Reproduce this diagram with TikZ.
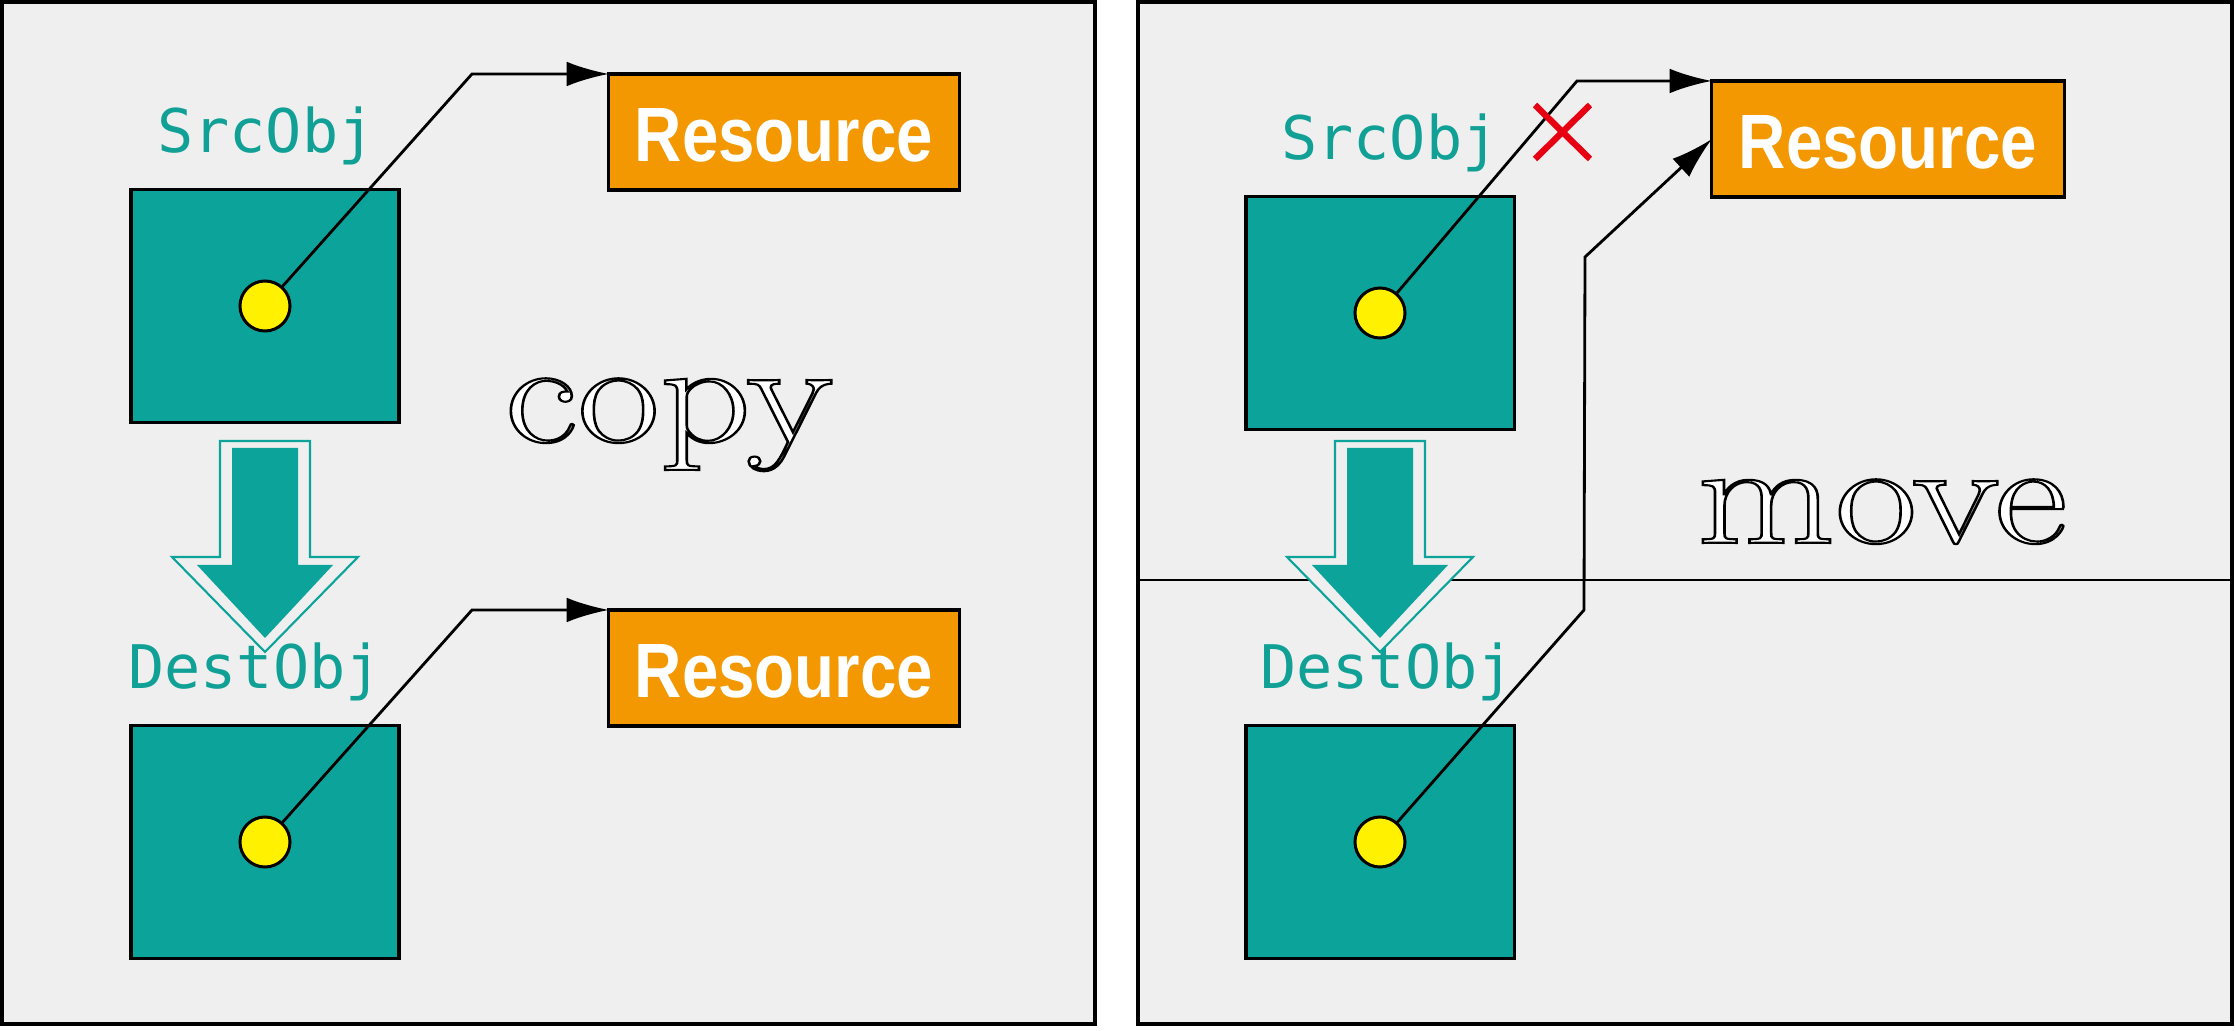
\documentclass[tikz,border=0pt]{standalone}
\usepackage{fontspec}
\usetikzlibrary{arrows.meta}
\newfontfamily\monof{DejaVu Sans Mono}
\newfontfamily\resf{Liberation Sans}
\definecolor{bgc}{RGB}{238,239,238}
\definecolor{tealc}{RGB}{12,163,154}
\definecolor{teallab}{RGB}{16,160,150}
\definecolor{orangec}{RGB}{243,152,0}
\definecolor{yellowc}{RGB}{255,241,0}
\definecolor{redc}{RGB}{230,0,18}
\newcommand{\outlinetext}[1]{\special{pdf:literal direct q 0 G 1 g 2 Tr 0.6 w}#1\special{pdf:literal direct Q}}
\begin{document}
\begin{tikzpicture}[x=0.01cm,y=-0.01cm,
  panel/.style={draw=black,line width=0.9pt,fill=bgc},
  objbox/.style={draw=black,line width=0.9pt,fill=tealc,minimum width=2.68cm,minimum height=2.33cm,inner sep=0pt,outer sep=0pt},
  resbox/.style={draw=black,line width=0.9pt,fill=orangec,minimum width=3.5cm,minimum height=1.16cm,inner sep=0pt,outer sep=0pt},
  restext/.style={anchor=base,inner sep=0pt,text=white,font=\resf\bfseries\fontsize{21.9pt}{24pt}\selectfont},
  objlabel/.style={anchor=base,inner sep=0pt,text=teallab,font=\monof\fontsize{17.1pt}{20pt}\selectfont},
  dot/.style={circle,draw=black,line width=0.85pt,fill=yellowc,minimum size=0.5cm,inner sep=0pt},
  conn/.style={draw=black,line width=0.8pt,-{Latex[length=12pt,width=7pt]}},
  bigout/.style={draw=tealc,line width=0.6pt,fill=bgc},
  bigin/.style={fill=tealc},
  outlined/.style={anchor=base,inner sep=0pt,font=\fontsize{41pt}{44pt}\selectfont},
  redx/.style={draw=redc,line width=1.8pt}]
\useasboundingbox (0,0) rectangle (2235,1031);
% panels
\path[panel] (2,2) rectangle (1095,1024);
\path[panel] (1138,2) rectangle (2232,1024);
\draw[line width=0.8pt] (1138,580) -- (2232,580);

% ---------- left panel (copy) ----------
\node[objbox] (src1) at (265,306) {};
\node[objbox] (dst1) at (265,842) {};
\node[resbox] (res1) at (784,132) {};
\node[resbox] (res2) at (784,668) {};
\node[restext] (res1t) at (784,162) {\scalebox{0.85}[1]{Resource}};
\node[restext] (res2t) at (784,698) {\scalebox{0.85}[1]{Resource}};
\node[objlabel] (src1l) at (266,153) {SrcObj};
\node[objlabel] (dst1l) at (255,689) {DestObj};
\node[dot] (sd1) at (src1.center) {};
\node[dot] (dd1) at (dst1.center) {};
\coordinate (b1) at (472,74);
\coordinate (b2) at (472,610);
\draw[conn] (sd1) -- (b1) -- (res1.north west);
\draw[conn] (dd1) -- (b2) -- (res2.north west);
\path[bigout] (220,441) -- (310,441) -- (310,557) -- (358,557) -- (265,652) -- (172,557) -- (220,557) -- cycle;
\path[bigin] (232,448) -- (298,448) -- (298,565) -- (333,565) -- (265,638) -- (197,565) -- (232,565) -- cycle;
\node[outlined] (copyt) at (669,442) {\scalebox{1.24}[1]{\outlinetext{copy}}};

% ---------- right panel (move) ----------
\node[objbox] (src2) at (1380,313) {};
\node[objbox] (dst2) at (1380,842) {};
\node[resbox,minimum width=3.52cm] (res3) at (1888,139) {};
\node[restext] (res3t) at (1888,169) {\scalebox{0.85}[1]{Resource}};
\node[objlabel] (src2l) at (1390,160) {SrcObj};
\node[objlabel] (dst2l) at (1387,689) {DestObj};
\node[dot] (sd2) at (src2.center) {};
\node[dot] (dd2) at (dst2.center) {};
\coordinate (b3) at (1577,81);
\coordinate (b4) at (1584,610);
\coordinate (b5) at (1585,257);
\draw[conn] (sd2) -- (b3) -- (res3.north west);
\draw[conn] (dd2) -- (b4) -- (b5) -- (res3.west);
\begin{scope}[shift={(1115,0)}]
\path[bigout] (220,441) -- (310,441) -- (310,557) -- (358,557) -- (265,652) -- (172,557) -- (220,557) -- cycle;
\path[bigin] (232,448) -- (298,448) -- (298,565) -- (333,565) -- (265,638) -- (197,565) -- (232,565) -- cycle;
\end{scope}
\draw[redx] (1535,105) -- (1590,159) (1590,105) -- (1535,159);
\node[outlined] (movet) at (1882,543) {\scalebox{1.24}[1]{\outlinetext{move}}};
\end{tikzpicture}
\end{document}
